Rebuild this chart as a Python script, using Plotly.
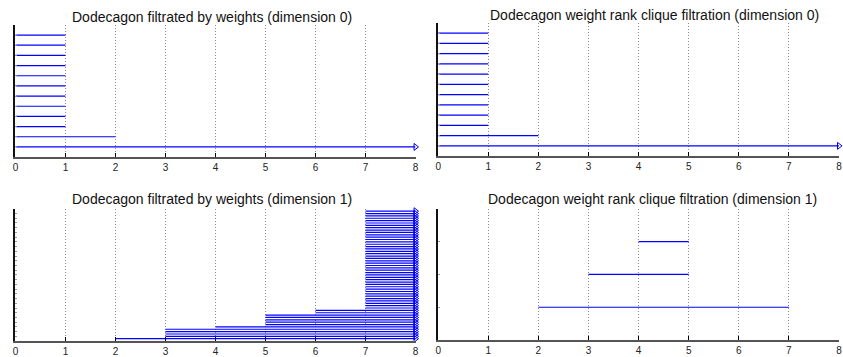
import plotly.graph_objects as go

# Persistence intervals (birth, death); None death = infinite interval
INF_LIMIT = 8

weights_dim0_births = [0] * 12
weights_dim0_deaths = [None, 2, 1, 1, 1, 1, 1, 1, 1, 1, 1, 1]

weights_dim1_births = [2, 3, 3, 3, 3, 4, 5, 5, 5, 5, 5, 6, 6] + [7] * 42
weights_dim1_deaths = [None] * 55

wrcf_dim0_births = [0] * 12
wrcf_dim0_deaths = [None, 2, 1, 1, 1, 1, 1, 1, 1, 1, 1, 1]

wrcf_dim1_births = [2, 3, 4]
wrcf_dim1_deaths = [7, 5, 5]

x_ticks = [0, 1, 2, 3, 4, 5, 6, 7, 8]

titles = [
    "Dodecagon filtrated by weights (dimension 0)",
    "Dodecagon weight rank clique filtration (dimension 0)",
    "Dodecagon filtrated by weights (dimension 1)",
    "Dodecagon weight rank clique filtration (dimension 1)",
]

W, H = 843, 357
BLUE = "#0000ff"

# pixel boxes of the four panels: (left, right, top, bottom)
boxes = [
    (12.5, 415.5, 25, 158),
    (438.3, 842, 23, 157),
    (12.5, 415.5, 210, 343),
    (438.3, 842, 210, 342),
]
title_pos = [(211, 17), (656, 15), (210, 200), (654, 200)]

panels = [
    (weights_dim0_births, weights_dim0_deaths),
    (wrcf_dim0_births, wrcf_dim0_deaths),
    (weights_dim1_births, weights_dim1_deaths),
    (wrcf_dim1_births, wrcf_dim1_deaths),
]

fig = go.Figure()
layout = dict(
    width=W, height=H,
    margin=dict(l=0, r=0, t=0, b=0),
    paper_bgcolor="white", plot_bgcolor="white",
    showlegend=False,
    font=dict(family="Liberation Sans, Arial, sans-serif", color="#222222"),
)
annotations = []

for i, ((births, deaths), box, tpos, title) in enumerate(zip(panels, boxes, title_pos, titles)):
    n = len(births)
    sx = "" if i == 0 else str(i + 1)
    xs, ys, ax, ay = [], [], [], []
    for k, (b, d) in enumerate(zip(births, deaths), start=1):
        end = INF_LIMIT if d is None else d
        xs += [b, end, None]
        ys += [k, k, None]
        if d is None:
            ax.append(INF_LIMIT)
            ay.append(k)
    fig.add_trace(go.Scatter(
        x=xs, y=ys, mode="lines", xaxis="x" + sx, yaxis="y" + sx,
        line=dict(color=BLUE, width=1.2), hoverinfo="skip", cliponaxis=False,
    ))
    if ax:
        fig.add_trace(go.Scatter(
            x=ax, y=ay, mode="markers", xaxis="x" + sx, yaxis="y" + sx,
            marker=dict(symbol="triangle-right-open", size=6, color=BLUE,
                        line=dict(width=1, color=BLUE)),
            hoverinfo="skip", cliponaxis=False,
        ))
    l, r, t, b = box
    layout["xaxis" + sx] = dict(
        domain=[l / W, r / W], range=[0, 8], anchor="y" + sx,
        tickmode="array", tickvals=x_ticks, ticktext=[str(v) for v in x_ticks],
        ticks="inside", ticklen=4, tickcolor="#000000", tickwidth=1,
        showline=True, linecolor="#555555", linewidth=1.5,
        showgrid=True, gridcolor="#8a8a8a", griddash="1px,2px", gridwidth=1,
        zeroline=False, tickfont=dict(size=10, color="#222222"),
        fixedrange=True,
    )
    layout["yaxis" + sx] = dict(
        domain=[1 - b / H, 1 - t / H], range=[0, n + 1], anchor="x" + sx,
        dtick=1 if n < 20 else 2, ticks="inside", ticklen=2, tickcolor="#9a9a9a",
        tickwidth=0.6,
        showticklabels=False, showline=True, linecolor="#111111", linewidth=1.5,
        showgrid=False, zeroline=False, fixedrange=True,
    )
    annotations.append(dict(
        text=title, x=tpos[0] / W, y=1 - tpos[1] / H, xref="paper", yref="paper",
        xanchor="center", yanchor="middle", showarrow=False,
        font=dict(size=14, color="#111111", family="Liberation Sans, Arial, sans-serif"),
    ))

layout["annotations"] = annotations
fig.update_layout(**layout)
fig.write_html("out.html")
